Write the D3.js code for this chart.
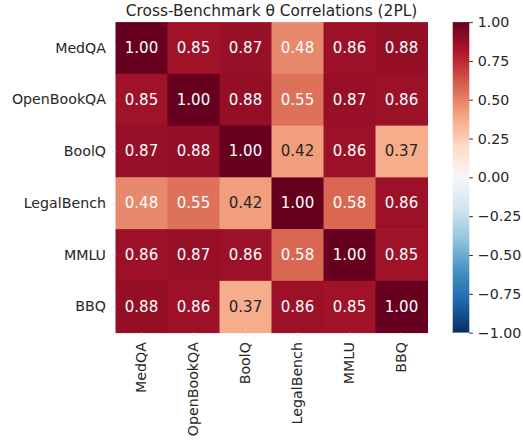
<!DOCTYPE html>
<html>
<head>
<meta charset="utf-8">
<script src="https://cdn.jsdelivr.net/npm/d3@7"></script>
<style>
  html, body { margin: 0; padding: 0; background: #fff; }
  svg { display: block; }
  text { font-family: "DejaVu Sans", sans-serif; }
</style>
</head>
<body>
<svg id="chart" width="523" height="440"></svg>
<script>
// Benchmarks (rows and columns of the correlation matrix)
const benchmarks = ["MedQA", "OpenBookQA", "BoolQ", "LegalBench", "MMLU", "BBQ"];

// Pairwise correlations of 2PL ability estimates, one row per benchmark
const corrMedQA      = [1.00, 0.85, 0.87, 0.48, 0.86, 0.88];
const corrOpenBookQA = [0.85, 1.00, 0.88, 0.55, 0.87, 0.86];
const corrBoolQ      = [0.87, 0.88, 1.00, 0.42, 0.86, 0.37];
const corrLegalBench = [0.48, 0.55, 0.42, 1.00, 0.58, 0.86];
const corrMMLU       = [0.86, 0.87, 0.86, 0.58, 1.00, 0.85];
const corrBBQ        = [0.88, 0.86, 0.37, 0.86, 0.85, 1.00];
const matrix = [corrMedQA, corrOpenBookQA, corrBoolQ, corrLegalBench, corrMMLU, corrBBQ];

// Colour bar ticks
const colorTicks = [-1.00, -0.75, -0.50, -0.25, 0.00, 0.25, 0.50, 0.75, 1.00];

const title = "Cross-Benchmark θ Correlations (2PL)";

// Diverging red–blue palette (low = blue, high = red)
const rdbuStops = ["#053061", "#2166ac", "#4393c3", "#92c5de", "#d1e5f0",
                   "#f7f7f7", "#fddbc7", "#f4a582", "#d6604d", "#b2182b", "#67001f"];
const ramp = d3.piecewise(d3.interpolateRgb, rdbuStops);
const color = d3.scaleSequential(v => ramp(v)).domain([-1, 1]);

const svg = d3.select("#chart");

const heat = { left: 115.5, top: 22.1, width: 312, height: 310.5 };

const x = d3.scaleBand().domain(benchmarks).range([heat.left, heat.left + heat.width]);
const y = d3.scaleBand().domain(benchmarks).range([heat.top, heat.top + heat.height]);

const cells = [];
matrix.forEach((row, i) => row.forEach((v, j) => cells.push({ r: benchmarks[i], c: benchmarks[j], v })));

// Relative luminance to pick a readable annotation colour
function luminance(c) {
  const rgb = d3.rgb(c);
  const lin = [rgb.r, rgb.g, rgb.b].map(u => {
    u /= 255;
    return u <= 0.03928 ? u / 12.92 : Math.pow((u + 0.055) / 1.055, 2.4);
  });
  return 0.2126 * lin[0] + 0.7152 * lin[1] + 0.0722 * lin[2];
}

svg.append("g").selectAll("rect").data(cells).join("rect")
  .attr("x", d => x(d.c))
  .attr("y", d => y(d.r))
  .attr("width", x.bandwidth() + 0.5)
  .attr("height", y.bandwidth() + 0.5)
  .attr("fill", d => color(d.v));

svg.append("g").selectAll("text").data(cells).join("text")
  .attr("x", d => x(d.c) + x.bandwidth() / 2)
  .attr("y", d => y(d.r) + y.bandwidth() / 2)
  .attr("text-anchor", "middle")
  .attr("dominant-baseline", "central")
  .attr("font-size", "15px")
  .attr("fill", d => luminance(color(d.v)) > 0.408 ? "#262626" : "#ffffff")
  .text(d => d.v.toFixed(2));

// Row axis (left)
const yAxis = d3.axisLeft(y).tickSize(3.5).tickPadding(6);
const gy = svg.append("g").attr("transform", `translate(${heat.left},0)`).call(yAxis);
gy.select(".domain").remove();
gy.selectAll(".tick line").attr("stroke", "#e6e6e6");
gy.selectAll(".tick text").attr("font-size", "14.2px").attr("fill", "#262626");

// Column axis (bottom, rotated labels)
const xAxis = d3.axisBottom(x).tickSize(3.5).tickPadding(6);
const gx = svg.append("g").attr("transform", `translate(0,${heat.top + heat.height})`).call(xAxis);
gx.select(".domain").remove();
gx.selectAll(".tick line").attr("stroke", "#e6e6e6");
gx.selectAll(".tick text")
  .attr("font-size", "14.2px")
  .attr("fill", "#262626")
  .attr("transform", "rotate(-90)")
  .attr("text-anchor", "end")
  .attr("dy", "0.35em")
  .attr("x", -9.5)
  .attr("y", 0);

// Title
svg.append("text")
  .attr("x", heat.left + heat.width / 2)
  .attr("y", 16)
  .attr("text-anchor", "middle")
  .attr("font-size", "15.4px")
  .attr("fill", "#262626")
  .text(title);

// Colour bar
const cb = { left: 452.7, width: 16.6, top: heat.top, height: heat.height };
const defs = svg.append("defs");
const grad = defs.append("linearGradient").attr("id", "cbar")
  .attr("x1", 0).attr("y1", 1).attr("x2", 0).attr("y2", 0);
d3.range(0, 1.0001, 0.02).forEach(t => {
  grad.append("stop").attr("offset", t).attr("stop-color", color(-1 + 2 * t));
});
svg.append("rect")
  .attr("x", cb.left).attr("y", cb.top)
  .attr("width", cb.width).attr("height", cb.height)
  .attr("fill", "url(#cbar)");

const cy = d3.scaleLinear().domain([-1, 1]).range([cb.top + cb.height, cb.top]);
const cAxis = d3.axisRight(cy).tickValues(colorTicks).tickSize(3.5).tickPadding(5)
  .tickFormat(d => d3.format(".2f")(d).replace("-", "\u2212"));
const gc = svg.append("g").attr("transform", `translate(${cb.left + cb.width},0)`).call(cAxis);
gc.select(".domain").remove();
gc.selectAll(".tick line").attr("stroke", "#262626").attr("stroke-width", 1);
gc.selectAll(".tick text").attr("font-size", "14.2px").attr("fill", "#262626");
</script>
</body>
</html>
